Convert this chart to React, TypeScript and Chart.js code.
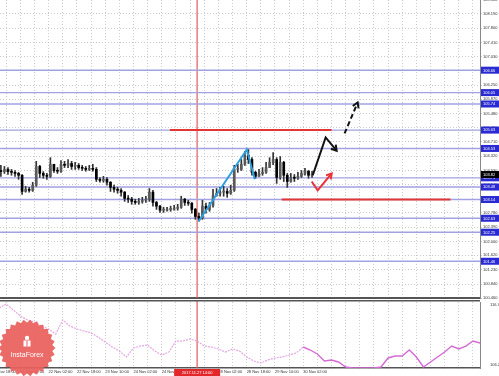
import React, { useEffect, useRef } from "react";
import { Chart, registerables } from "chart.js";
Chart.register(...registerables);

// ---------- axis ranges (hour index of trading time) ----------
const T_MIN = 4.5;
const T_MAX = 276;
const GRID_STEP = 8;
const PRICE_MIN = 100.46;
const PRICE_MAX = 108.57;

// ---------- candles (2-hour bars) ----------
const candleTimes = [5,7,9,11,13,15,17,19,21,23,25,27,29,31,33,35,37,39,41,43,45,47,49,51,53,55,57,59,61,63,65,67,69,71,73,75,77,79,81,83,85,87,89,91,93,95,97,99,101,103,105,107,109,111,113,115,117,119,121,123,125,127,129,131,133,135,137,139,141,143,145,147,149,151,153,155,157,159,161,163,165,167,169,171,173,175,177,179,181];
const firstOpen = 103.93;
const closes = [
  103.90,103.96,103.90,103.88,103.85,103.80,103.36,103.42,103.39,103.53,
  104.04,103.85,103.80,103.77,104.10,103.93,103.91,104.10,104.07,104.12,
  104.04,104.07,104.01,103.99,103.96,103.99,103.96,103.69,103.66,103.69,
  103.61,103.47,103.42,103.39,103.34,103.17,103.15,103.09,103.06,103.09,
  103.12,103.15,103.34,103.06,102.96,102.85,102.85,102.87,102.87,102.90,
  102.93,103.15,103.06,103.04,102.87,102.68,102.63,102.96,102.87,102.98,
  103.25,103.31,103.34,103.36,103.31,103.39,103.96,103.96,104.10,104.34,
  104.23,103.88,103.77,103.85,103.88,104.01,104.15,104.23,103.74,104.15,
  103.80,103.63,103.74,103.72,103.77,103.85,103.91,103.80,103.82];
const highs = [
  104.07,104.04,104.01,103.96,103.93,103.88,103.82,103.50,103.47,103.61,
  104.18,104.07,103.90,103.85,104.28,104.10,104.01,104.20,104.18,104.23,
  104.18,104.15,104.12,104.07,104.04,104.07,104.10,104.01,103.74,103.77,
  103.74,103.63,103.53,103.47,103.44,103.36,103.25,103.20,103.15,103.17,
  103.20,103.23,103.44,103.39,103.09,102.98,102.93,102.93,102.96,102.98,
  103.01,103.23,103.17,103.12,103.06,102.90,102.77,103.12,103.04,103.06,
  103.42,103.44,103.47,103.50,103.44,103.53,104.07,104.10,104.23,104.45,
  104.50,104.28,103.91,103.96,104.01,104.15,104.28,104.42,104.28,104.31,
  104.18,103.85,103.85,103.82,103.88,103.93,103.99,103.93,103.91];
const lows = [
  103.77,103.85,103.82,103.80,103.77,103.69,103.28,103.34,103.34,103.36,
  103.50,103.74,103.72,103.69,103.74,103.88,103.85,103.88,104.01,104.01,
  103.96,103.96,103.96,103.93,103.91,103.93,103.91,103.63,103.61,103.61,
  103.53,103.36,103.34,103.31,103.23,103.09,103.06,103.01,103.01,103.01,
  103.04,103.06,103.09,102.96,102.87,102.79,102.79,102.82,102.82,102.85,
  102.85,102.90,102.98,102.98,102.77,102.60,102.55,102.60,102.77,102.82,
  102.93,103.23,103.23,103.23,103.20,103.28,103.36,103.88,103.93,104.07,
  104.12,103.80,103.72,103.77,103.80,103.85,104.01,104.09,103.58,103.69,
  103.63,103.47,103.61,103.63,103.69,103.74,103.80,103.72,103.74];

// ---------- price axis ----------
const priceTickValues = [108.58,108.19,107.80,107.41,107.03,106.64,106.25,105.87,105.48,105.09,104.71,104.32,103.93,103.54,103.15,102.78,102.39,102.00,101.62,101.23,100.84,100.46];

// ---------- horizontal levels ----------
const levelPrices = [106.66,106.05,105.74,105.03,104.53,103.73,103.48,103.14,102.63,102.25,101.46];
const redSegStart = [100.6, 163.8];
const redSegEnd = [192, 259.3];
const redSegPrice = [105.03, 103.14];

// ---------- drawn lines ----------
const waveTimes = [116.9, 144.1, 148.6];
const wavePrices = [102.55, 104.50, 103.69];
const forecastTimes = [181.4, 188.7, 194.9];
const forecastPrices = [103.80, 104.83, 104.47];
const forecastDashTimes = [199.4, 206.8];
const forecastDashPrices = [104.94, 105.78];
const altTimes = [180.8, 184.2, 192.1];
const altPrices = [103.63, 103.39, 103.85];

// ---------- time axis ----------
const timeTickValues = [0,16,32,48,64,80,96,112,128,144,160,176];
const timeTickLabels = ["20 Nov 18:00","21 Nov 10:00","22 Nov 02:00","22 Nov 18:00","23 Nov 10:00","24 Nov 02:00","24 Nov 18:00","27 Nov 10:00","28 Nov 02:00","28 Nov 18:00","29 Nov 10:00","30 Nov 02:00"];
const markerTime = 116;
const markerLabel = "2017.11.27 14:00";

// ---------- lower indicator ----------
const indTimes = [0,4,8,12,16,20,24,28,32,36,40,44,48,52,56,60,64,68,72,76,80,84,88,92,96,100,104,108,112,116,120,124,128,132,136,140,144,148,152,156,160,164,168,172,176,180,184,188,192,196,200,204,208,212,216,220,224,228,232,236,240,244,248,252,256,260,264,268,272,276];
const indValues = [
  115.19,115.83,116.47,115.51,114.55,113.91,113.58,112.94,112.46,111.66,
  113.91,112.94,112.46,112.14,111.82,111.18,110.38,109.57,108.93,107.97,
  109.41,109.73,109.89,108.93,108.29,108.77,110.53,110.53,110.86,110.53,
  109.73,109.57,109.25,108.77,109.25,108.93,107.97,107.33,107.01,107.49,
  107.81,107.97,108.29,108.61,109.57,109.09,108.45,107.33,107.49,107.17,
  106.36,106.20,106.20,106.20,106.20,106.36,107.81,108.13,108.13,109.09,
  107.97,106.36,107.17,107.97,108.77,109.73,109.25,109.73,110.53,110.21];
const indSplitTime = 176;
const indMin = 106.203;
const indMax = 116.794;
const indAxisLabels = ["106.203", "116.794"];

const FONT = "Liberation Sans";

function gridTicks() {
  const out: { value: number }[] = [];
  for (let v = 0; v <= T_MAX; v += GRID_STEP) out.push({ value: v });
  return out;
}

function drawArrowHeads(chart: any) {
  const ctx = chart.ctx;
  chart.data.datasets.forEach((ds: any, i: number) => {
    if (!ds.arrowHead) return;
    const pts = chart.getDatasetMeta(i).data;
    if (pts.length < 2) return;
    const a = pts[pts.length - 2];
    const b = pts[pts.length - 1];
    const ang = Math.atan2(b.y - a.y, b.x - a.x);
    const L = 6;
    ctx.save();
    ctx.setLineDash([]);
    ctx.strokeStyle = ds.borderColor;
    ctx.lineWidth = 2;
    ctx.beginPath();
    ctx.moveTo(b.x - L * Math.cos(ang - 0.55), b.y - L * Math.sin(ang - 0.55));
    ctx.lineTo(b.x, b.y);
    ctx.lineTo(b.x - L * Math.cos(ang + 0.55), b.y - L * Math.sin(ang + 0.55));
    ctx.stroke();
    ctx.restore();
  });
}

const mainOverlay = {
  id: "mainOverlay",
  beforeDatasetsDraw(chart: any) {
    const { ctx, chartArea, scales } = chart;
    const x = scales.x.getPixelForValue(markerTime);
    ctx.save();
    ctx.strokeStyle = "rgba(222,90,90,0.8)";
    ctx.lineWidth = 1.5;
    ctx.beginPath();
    ctx.moveTo(x, chartArea.top);
    ctx.lineTo(x, chartArea.bottom);
    ctx.stroke();
    ctx.restore();
  },
  afterDatasetsDraw(chart: any) {
    drawArrowHeads(chart);
  },
  afterDraw(chart: any) {
    const { ctx, scales } = chart;
    const ys = scales.y;
    ctx.save();
    ctx.font = `4px "${FONT}"`;
    ctx.textBaseline = "middle";
    ctx.textAlign = "left";
    levelPrices.forEach((p) => {
      const py = ys.getPixelForValue(p);
      ctx.fillStyle = "#2a2ad2";
      ctx.fillRect(ys.left + 1, py - 3.5, ys.width - 1, 7);
      ctx.fillStyle = "#ffffff";
      ctx.fillText(p.toFixed(2), ys.left + 3, py + 0.3);
    });
    const last = closes[closes.length - 1];
    const py = ys.getPixelForValue(last);
    ctx.fillStyle = "#000000";
    ctx.fillRect(ys.left + 1, py - 3.5, ys.width - 1, 7);
    ctx.fillStyle = "#ffffff";
    ctx.fillText(last.toFixed(2), ys.left + 3, py + 0.3);
    ctx.restore();
  },
};

const subOverlay = {
  id: "subOverlay",
  beforeDatasetsDraw(chart: any) {
    const { ctx, chartArea, scales } = chart;
    const x = scales.x.getPixelForValue(markerTime);
    ctx.save();
    ctx.strokeStyle = "rgba(222,90,90,0.8)";
    ctx.lineWidth = 1.5;
    ctx.beginPath();
    ctx.moveTo(x, 0);
    ctx.lineTo(x, chartArea.bottom);
    ctx.stroke();
    ctx.restore();
  },
  afterDraw(chart: any) {
    const { ctx, chartArea, scales, height } = chart;
    ctx.save();
    ctx.fillStyle = "#555";
    ctx.fillRect(0, 0, chartArea.right, 1.5);
    const x = scales.x.getPixelForValue(markerTime);
    ctx.fillStyle = "#e3262a";
    ctx.fillRect(x - 23, chartArea.bottom + 1, 46, height - chartArea.bottom - 1);
    ctx.fillStyle = "#ffffff";
    ctx.font = `4px "${FONT}"`;
    ctx.textAlign = "center";
    ctx.textBaseline = "middle";
    ctx.fillText(markerLabel, x, chartArea.bottom + 4.5);
    // logo
    const cx = 27, cy = 48, R = 28.5, r = 25.5, n = 26;
    ctx.beginPath();
    for (let i = 0; i < 2 * n; i++) {
      const a = (i * Math.PI) / n;
      const rad = i % 2 === 0 ? R : r;
      const px = cx + rad * Math.cos(a);
      const py = cy + rad * Math.sin(a);
      if (i === 0) ctx.moveTo(px, py); else ctx.lineTo(px, py);
    }
    ctx.closePath();
    ctx.fillStyle = "rgba(234,96,92,0.93)";
    ctx.fill();
    ctx.fillStyle = "#ffffff";
    ctx.beginPath();
    ctx.arc(cx, cy - 10, 2.2, 0, Math.PI * 2);
    ctx.fill();
    ctx.fillRect(cx - 3.5, cy - 7.5, 7, 6);
    ctx.fillStyle = "rgba(234,96,92,1)";
    ctx.fillRect(cx - 0.5, cy - 7.5, 1, 6);
    ctx.fillStyle = "#ffffff";
    ctx.font = `7px "${FONT}"`;
    ctx.textAlign = "center";
    ctx.textBaseline = "middle";
    ctx.fillText("InstaForex", cx, cy + 7);
    ctx.restore();
  },
};

export default function App() {
  const mainRef = useRef<HTMLCanvasElement>(null);
  const subRef = useRef<HTMLCanvasElement>(null);

  useEffect(() => {
    document.body.style.margin = "0";
    const opens = closes.map((c, i) => (i === 0 ? firstOpen : closes[i - 1]));
    const wickData = candleTimes.map((t, i) => ({
      x: t,
      y: [Math.min(lows[i], opens[i], closes[i]), Math.max(highs[i], opens[i], closes[i])],
    }));
    const bodyData = candleTimes.map((t, i) => ({ x: t, y: [opens[i], closes[i]] }));
    const bodyColors = candleTimes.map((_, i) => (closes[i] >= opens[i] ? "#5a5a5a" : "#000000"));

    const levelDatasets = levelPrices.map((p) => ({
      type: "line",
      data: [{ x: T_MIN, y: p }, { x: T_MAX, y: p }],
      borderColor: "#a2a2e2",
      borderWidth: 1.4,
      pointRadius: 0,
      order: 10,
    }));
    const redDatasets = redSegPrice.map((p, i) => ({
      type: "line",
      data: [{ x: redSegStart[i], y: p }, { x: redSegEnd[i], y: p }],
      borderColor: "#e23535",
      borderWidth: 2,
      pointRadius: 0,
      order: 3,
    }));
    const toPts = (ts: number[], ps: number[]) => ts.map((t, i) => ({ x: t, y: ps[i] }));

    const datasets: any[] = [
      { type: "line", data: toPts(forecastTimes, forecastPrices), borderColor: "#111111", borderWidth: 2, pointRadius: 0, order: 1, arrowHead: true },
      { type: "line", data: toPts(forecastDashTimes, forecastDashPrices), borderColor: "#111111", borderWidth: 2, borderDash: [5, 3], pointRadius: 0, order: 1, arrowHead: true },
      { type: "line", data: toPts(altTimes, altPrices), borderColor: "#e8323a", borderWidth: 2, pointRadius: 0, order: 1, arrowHead: true },
      { type: "line", data: toPts(waveTimes, wavePrices), borderColor: "#2a9fe0", borderWidth: 2, pointRadius: 0, order: 2 },
      ...redDatasets,
      { type: "bar", data: bodyData, backgroundColor: bodyColors, barThickness: 2, minBarLength: 1, grouped: false, order: 4 },
      { type: "bar", data: wickData, backgroundColor: "#333333", barThickness: 1, grouped: false, order: 5 },
      ...levelDatasets,
    ];

    const gridColor = "#cacaca";

    const main = new Chart(mainRef.current as HTMLCanvasElement, {
      type: "bar",
      data: { datasets },
      options: {
        animation: false,
        responsive: false,
        events: [],
        layout: { padding: 0 },
        plugins: { legend: { display: false }, tooltip: { enabled: false } },
        scales: {
          x: {
            type: "linear",
            min: T_MIN,
            max: T_MAX,
            offset: false,
            grid: { color: gridColor, drawTicks: false, offset: false },
            border: { display: true, color: "#555", width: 2, dash: [1, 2] },
            ticks: { display: false },
            afterBuildTicks: (s: any) => { s.ticks = gridTicks(); },
            afterFit: (s: any) => { s.height = 2; s.paddingLeft = 0; s.paddingRight = 0; },
          },
          y: {
            type: "linear",
            position: "right",
            min: PRICE_MIN,
            max: PRICE_MAX,
            grid: { color: gridColor, tickLength: 2 },
            border: { display: true, color: "#888", width: 1, dash: [1, 2] },
            ticks: {
              autoSkip: false,
              padding: 1,
              color: "#333",
              font: { size: 4, family: FONT },
              callback: (v: any) => Number(v).toFixed(3),
            },
            afterBuildTicks: (s: any) => { s.ticks = priceTickValues.map((v) => ({ value: v })); },
            afterFit: (s: any) => { s.width = 19; s.paddingTop = 0; s.paddingBottom = 0; },
          },
        },
      } as any,
      plugins: [mainOverlay],
    } as any);

    const indA = indTimes.map((t, i) => ({ x: t, y: indValues[i] })).filter((p) => p.x <= indSplitTime);
    const indB = indTimes.map((t, i) => ({ x: t, y: indValues[i] })).filter((p) => p.x >= indSplitTime);

    const sub = new Chart(subRef.current as HTMLCanvasElement, {
      type: "line",
      data: {
        datasets: [
          { data: indB, borderColor: "#d56ad5", borderWidth: 1.4, pointRadius: 0 },
          { data: indA, borderColor: "#e3a6e3", borderWidth: 1.2, borderDash: [2, 1], pointRadius: 0 },
        ],
      },
      options: {
        animation: false,
        responsive: false,
        events: [],
        layout: { padding: { top: 2, left: 0, right: 0, bottom: 0 } },
        plugins: { legend: { display: false }, tooltip: { enabled: false } },
        scales: {
          x: {
            type: "linear",
            min: T_MIN,
            max: T_MAX,
            offset: false,
            grid: { color: gridColor, drawTicks: true, tickLength: 1 },
            border: { display: true, color: "#555", width: 1.5, dash: [1, 2] },
            ticks: {
              autoSkip: false,
              maxRotation: 0,
              minRotation: 0,
              align: "start",
              padding: 0.5,
              color: "#333",
              font: { size: 4, family: FONT },
              callback: (v: any) => {
                const k = timeTickValues.indexOf(Number(v));
                return k >= 0 ? timeTickLabels[k] : "";
              },
            },
            afterBuildTicks: (s: any) => { s.ticks = gridTicks(); },
            afterFit: (s: any) => { s.height = 8; s.paddingLeft = 0; s.paddingRight = 0; },
          },
          y: {
            type: "linear",
            position: "right",
            min: indMin,
            max: indMax,
            grid: { display: false },
            border: { display: true, color: "#888", width: 1 },
            ticks: {
              autoSkip: false,
              padding: 2,
              color: "#333",
              font: { size: 4, family: FONT },
              callback: (_v: any, i: number) => indAxisLabels[i],
            },
            afterBuildTicks: (s: any) => {
              s.ticks = [{ value: indMin + 0.45 }, { value: indMax - 0.45 }];
            },
            afterFit: (s: any) => { s.width = 19; s.paddingTop = 0; s.paddingBottom = 0; },
          },
        },
      } as any,
      plugins: [subOverlay],
    } as any);

    return () => {
      main.destroy();
      sub.destroy();
    };
  }, []);

  return (
    <div style={{ position: "absolute", left: 0, top: 0, width: 499, height: 376, background: "#fff" }}>
      <canvas ref={mainRef} width={499} height={300} style={{ position: "absolute", left: 0, top: 0, display: "block" }} />
      <canvas ref={subRef} width={499} height={76} style={{ position: "absolute", left: 0, top: 300, display: "block" }} />
    </div>
  );
}
